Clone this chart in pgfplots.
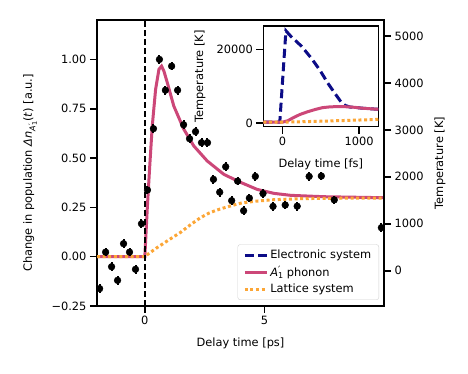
\documentclass[border=0pt]{standalone}
\usepackage{fontspec}
\setmainfont{DejaVu Sans}
\usepackage{pgfplots}
\pgfplotsset{compat=1.18}

\definecolor{elec}{RGB}{12,12,135}
\definecolor{phon}{RGB}{204,71,120}
\definecolor{latt}{RGB}{252,166,54}

\newcommand\fs{\fontsize{11.4}{13.7}\selectfont}
\newcommand\sm{\fontsize{8}{8}\selectfont}
\newcommand\xs{\fontsize{6.5}{6.5}\selectfont}
% A'_1 in the legend and as a subscript in the y label
\newcommand\Aone{\textit{A}\rlap{\raisebox{0.35ex}{\fontsize{10}{10}\selectfont ′}}\raisebox{-0.45ex}{\sm 1}}
\newcommand\Asub{\raisebox{-0.55ex}{\sm\textit{A}\rlap{\raisebox{0.25ex}{\fontsize{7.5}{7.5}\selectfont ′}}\raisebox{-0.35ex}{\xs 1}}}

\pgfplotsset{
  every axis/.append style={scale only axis, font=\fs, scaled ticks=false},
  axis line style={line width=1.6pt},
  every tick/.style={black, line width=1.6pt},
  major tick length=7pt,
  tick align=outside,
  tick label style={font=\fs},
  label style={font=\fs},
  legend image code/.code={\draw[#1] plot coordinates {(0pt,0pt) (22pt,0pt)};},
}

\begin{document}
\begin{tikzpicture}[font=\fs]
\useasboundingbox (0,0) rectangle (468pt,374pt);

% main axis: population change (left scale)
\begin{axis}[
    at={(97pt,68pt)}, anchor=south west,
    width=287pt, height=286pt,
    xmin=-2, xmax=10, ymin=-0.25, ymax=1.2,
    tick pos=left,
    xtick={0,5}, xticklabels={0,5},
    ytick={-0.25,0,0.25,0.5,0.75,1},
    yticklabels={−0.25,0.00,0.25,0.50,0.75,1.00},
    xlabel={Delay time [ps]},
    ylabel={Change in population \textit{Δn}\Asub(\textit{t}) [a.u.]},
    every axis x label/.style={at={(axis description cs:0.5,0)}, yshift=-37pt, anchor=center},
    every axis y label/.style={at={(axis description cs:0,0.465)}, xshift=-67pt, rotate=90, anchor=center},
    legend style={at={(1,0)}, anchor=south east, xshift=-5pt, yshift=6pt,
        draw=black!18, rounded corners=2.5pt, fill=white, fill opacity=0.8, text opacity=1,
        font=\fs, inner xsep=5.5pt, inner ysep=3.5pt, row sep=2.5pt},
    legend cell align=left,
]
\addlegendimage{elec, line width=3pt, dash pattern=on 9pt off 4.5pt}
\addlegendentry{Electronic system}

\addplot[phon, line width=3pt] coordinates {
    (-2,0) (0,0) (0.1,0.24) (0.2,0.45) (0.31,0.662) (0.45,0.848) (0.59,0.95)
    (0.7,0.966) (0.8,0.94) (0.94,0.882) (1.21,0.764) (1.63,0.646) (2.05,0.561)
    (2.61,0.485) (3.31,0.417) (4.0,0.377) (4.7,0.341) (5.4,0.321) (6.1,0.311)
    (7.5,0.304) (10,0.299)
};
\addlegendentry{\Aone\ phonon}

\addplot[latt, line width=3pt, line cap=butt, dash pattern=on 3pt off 2.6pt] coordinates {
    (-2,0) (0,0) (0.1,0.01) (0.5,0.045) (1.0,0.085) (1.49,0.123) (1.8,0.152)
    (2.0,0.17) (2.33,0.198) (2.7,0.222) (3.0,0.236) (3.4,0.251) (3.72,0.262)
    (4.0,0.271) (4.6,0.281) (5.4,0.289) (6.5,0.294) (7.5,0.296) (10,0.297)
};
\addlegendentry{Lattice system}

\addplot[black, line width=1.6pt, dash pattern=on 6pt off 3pt, forget plot] coordinates {(0,-0.25) (0,1.2)};

\addplot[only marks, mark=*, mark size=3.4pt, black, forget plot,
    error bars/.cd, y dir=both, y explicit,
    error bar style={line width=2pt}, error mark=none] table[y error=e] {
x      y      e
-1.89 -0.162 0.022
-1.64  0.023 0.022
-1.39 -0.051 0.022
-1.14 -0.120 0.022
-0.89  0.066 0.022
-0.64  0.023 0.022
-0.39 -0.064 0.022
-0.14  0.167 0.022
 0.11  0.338 0.022
 0.36  0.649 0.022
 0.61  1.000 0.022
 0.86  0.844 0.022
 1.12  0.966 0.022
 1.37  0.844 0.022
 1.62  0.669 0.022
 1.87  0.598 0.022
 2.12  0.634 0.022
 2.37  0.578 0.022
 2.62  0.578 0.022
 2.87  0.392 0.022
 3.13  0.327 0.022
 3.38  0.456 0.022
 3.63  0.284 0.022
 3.88  0.383 0.022
 4.13  0.233 0.022
 4.37  0.297 0.022
 4.62  0.407 0.022
 4.94  0.320 0.022
 5.36  0.255 0.022
 5.87  0.262 0.022
 6.37  0.256 0.022
 6.87  0.407 0.022
 7.38  0.409 0.022
 7.92  0.288 0.022
 9.89  0.147 0.022
};
\end{axis}

% right temperature scale
\begin{axis}[
    at={(97pt,68pt)}, anchor=south west,
    width=287pt, height=286pt,
    xmin=-2, xmax=10, ymin=-750, ymax=5340,
    axis x line=none, axis y line*=right,
    ytick={0,1000,2000,3000,4000,5000},
    yticklabels={0,1000,2000,3000,4000,5000},
    ylabel={Temperature [K]},
    every axis y label/.style={at={(axis description cs:1,0.5)}, xshift=56pt, rotate=90, anchor=center},
]
\end{axis}

% inset
\begin{axis}[
    at={(263.3pt,247.3pt)}, anchor=south west,
    width=115pt, height=100.7pt,
    xmin=-250, xmax=1250, ymin=-920, ymax=26300,
    axis background/.style={fill=white},
    tick pos=left,
    xtick={0,1000}, xticklabels={0,1000},
    ytick={0,20000}, yticklabels={0,20000},
    xlabel={Delay time [fs]},
    ylabel={Temperature [K]},
    every axis x label/.style={at={(axis description cs:0.5,0)}, yshift=-37.3pt, anchor=center},
    every axis y label/.style={at={(axis description cs:0,0.5)}, xshift=-63.3pt, rotate=90, anchor=center},
]
\addplot[elec, line width=3pt, dash pattern=on 9pt off 4.5pt] coordinates {
    (-250,300) (-35,300) (45,25000) (110,23500) (250,20800) (380,17500)
    (490,14300) (590,10900) (690,7900) (770,5600) (820,4800) (880,4400)
    (950,4300) (1029,4100) (1130,3950) (1250,3780)
};
\addplot[phon, line width=3pt] coordinates {
    (-250,300) (0,300) (70,700) (140,1500) (230,2400) (330,3130) (430,3750)
    (521,4220) (610,4420) (691,4500) (780,4500) (860,4450) (950,4300)
    (1029,4100) (1130,3950) (1250,3780)
};
\addplot[latt, line width=3pt, line cap=butt, dash pattern=on 3pt off 2.6pt] coordinates {
    (-250,300) (0,300) (250,420) (500,560) (750,720) (1000,880) (1250,1050)
};
\end{axis}
\end{tikzpicture}
\end{document}
